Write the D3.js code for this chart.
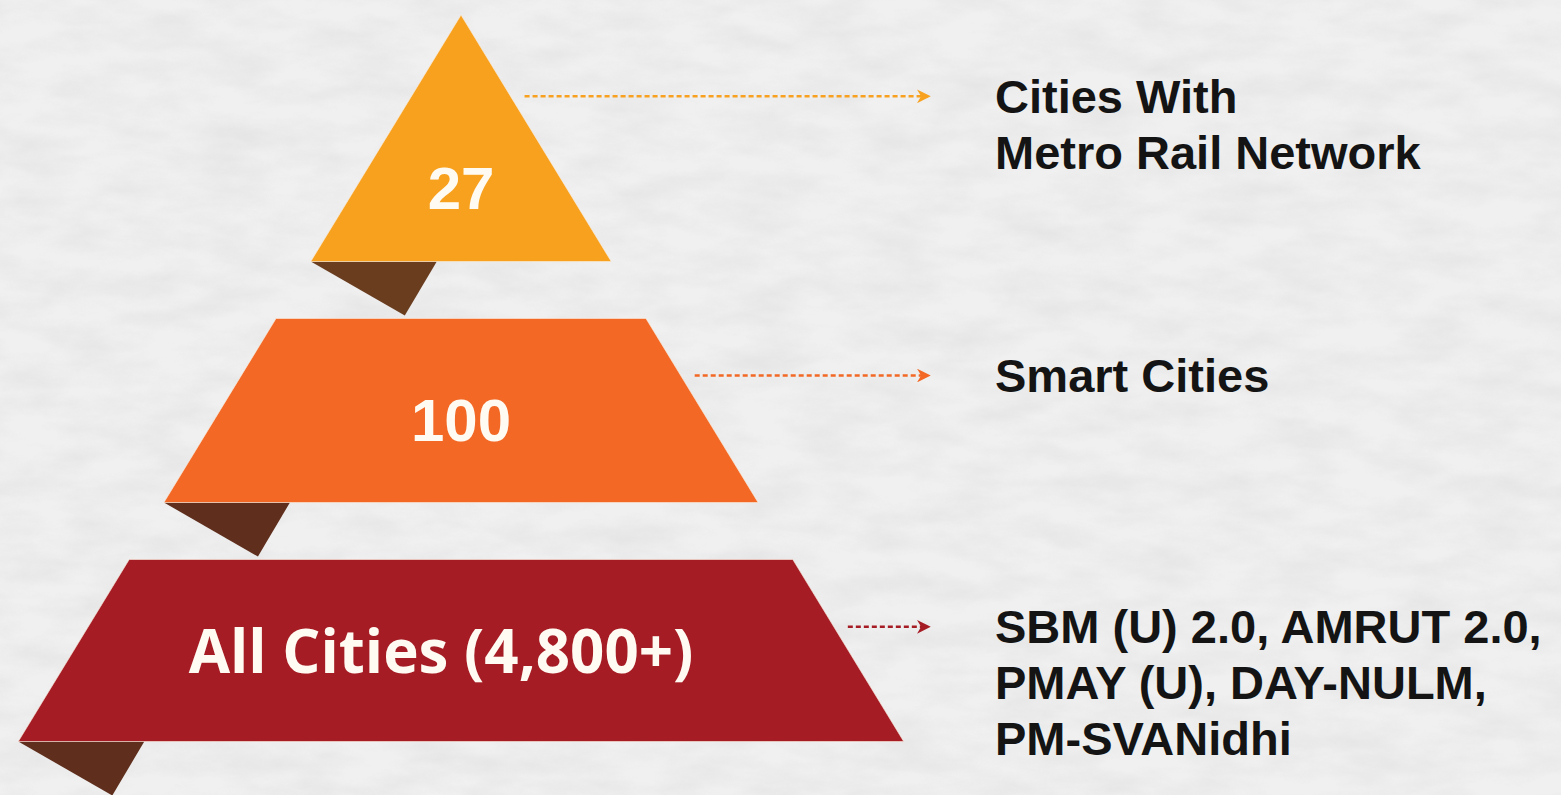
<!DOCTYPE html>
<html>
<head>
<meta charset="utf-8">
<script src="https://cdn.jsdelivr.net/npm/d3@7"></script>
<style>
	html, body { margin: 0; padding: 0; background: #efefef; overflow: hidden; }
	svg { display: block; }
</style>
</head>
<body>
<svg></svg>
<script>

// DATA

var tiers = ['Metro', 'Smart', 'All']
var tierValues = ['27', '100', 'All Cities (4,800+)']
var tierColors = ['#f7a11f', '#f26824', '#a51c24']
var tierDescriptions = [
	['Cities With', 'Metro Rail Network'],
	['Smart Cities'],
	['SBM (U) 2.0, AMRUT 2.0,', 'PMAY (U), DAY-NULM,', 'PM-SVANidhi']
]

// vis variables
var width = 1561
var height = 795

var svg = d3.select('svg')
	.attr('width', width)
	.attr('height', height)
	.attr('viewBox', `0 0 ${width} ${height}`)

// paper texture
var defs = svg.append('defs')

var paper = defs.append('filter')
	.attr('id', 'paper')
	.attr('x', 0).attr('y', 0).attr('width', '100%').attr('height', '100%')

paper.append('feTurbulence')
	.attr('type', 'fractalNoise')
	.attr('baseFrequency', '0.015 0.04')
	.attr('numOctaves', 5)
	.attr('seed', 3)
	.attr('result', 'noise')

paper.append('feColorMatrix')
	.attr('in', 'noise')
	.attr('type', 'matrix')
	.attr('values', '0 0 0 0 0.55  0 0 0 0 0.55  0 0 0 0 0.55  0 0 0 -1.1 0.75')

svg.append('rect')
	.attr('width', width)
	.attr('height', height)
	.attr('fill', '#f0f0f0')

svg.append('rect')
	.attr('width', width)
	.attr('height', height)
	.attr('filter', 'url(#paper)')
	.attr('opacity', 0.35)

// arrow markers, one per tier colour
tierColors.forEach(function(c, i){
	defs.append('marker')
		.attr('id', 'arrow' + i)
		.attr('viewBox', '0 0 10 10')
		.attr('refX', 8)
		.attr('refY', 5)
		.attr('markerWidth', 5.5)
		.attr('markerHeight', 5.5)
		.attr('markerUnits', 'strokeWidth')
		.attr('orient', 'auto')
		.append('path')
		.attr('d', 'M0,0 L10,5 L0,10 L3,5 Z')
		.attr('fill', c)
})

// SCALES

var cx = 461

// level -> y ; tier i lives between level i and i+1
var y = d3.scaleLinear()
	.domain([0, 1, 2, 3])
	.range([15, 290, 531, 770])

var gap = 57

// distance from apex -> half width of the pyramid
var halfWidth = d3.scaleLinear()
	.domain([15, 742])
	.range([0, 443])

function tier_top(i){ return i == 0 ? y(0) : y(i) + gap / 2 }
function tier_bottom(i){ return y(i + 1) - gap / 2 }

// label y inside each tier (triangle is narrow at the top)
var labelFrac = [0.70, 0.55, 0.51]
var arrowFrac = [0.33, 0.31, 0.37]

var fold = { w: 126, tipX: 94, tipY: 54 }

var viewport = svg.append('g')
	.attr('class', 'viewport')

// FOLDS (behind the tiers)

var _folds = viewport.append('g').attr('class', 'folds')

_folds.selectAll('.fold')
	.data(tiers)
	.enter()
	.append('path')
	.attr('class', 'fold')
	.attr('d', function(d, i){
		var yb = tier_bottom(i)
		var xl = cx - halfWidth(yb)
		return 'M' + xl + ',' + yb +
			'L' + (xl + fold.w) + ',' + yb +
			'L' + (xl + fold.tipX) + ',' + (yb + fold.tipY) + 'Z'
	})
	.attr('fill', function(d, i){ return i == 0 ? '#6a3d1f' : '#5f2e1c' })

// TIERS

var _tiers = viewport.append('g').attr('class', 'tiers')

_tiers.selectAll('.tier')
	.data(tiers)
	.enter()
	.append('path')
	.attr('class', 'tier')
	.attr('d', function(d, i){
		var yt = tier_top(i)
		var yb = tier_bottom(i)
		var wt = halfWidth(yt)
		var wb = halfWidth(yb)
		return 'M' + (cx - wt) + ',' + yt +
			'L' + (cx + wt) + ',' + yt +
			'L' + (cx + wb) + ',' + yb +
			'L' + (cx - wb) + ',' + yb + 'Z'
	})
	.attr('fill', function(d, i){ return tierColors[i] })
	.attr('stroke', '#fbeee0')
	.attr('stroke-width', 1)
	.attr('stroke-opacity', 0.6)

// VALUES

var _values = viewport.append('g').attr('class', 'values')

_values.selectAll('.value')
	.data(tierValues)
	.enter()
	.append('text')
	.attr('class', 'value')
	.attr('x', function(d, i){ return i == 2 ? cx - 20 : cx })
	.attr('y', function(d, i){
		return tier_top(i) + (tier_bottom(i) - tier_top(i)) * labelFrac[i]
	})
	.attr('dy', '0.35em')
	.attr('text-anchor', 'middle')
	.attr('fill', '#fffaf2')
	.style('font-family', function(d, i){ return i == 2 ? '"Open Sans", sans-serif' : '"Liberation Sans", Arial, sans-serif' })
	.style('font-weight', 700)
	.style('font-size', function(d, i){ return i == 2 ? '60px' : '60px' })
	.text(function(d){ return d })

// ARROWS

var arrowEnd = 928

var _arrows = viewport.append('g').attr('class', 'arrows')

_arrows.selectAll('.arrow')
	.data(tiers)
	.enter()
	.append('line')
	.attr('class', 'arrow')
	.attr('x1', function(d, i){
		var ya = tier_top(i) + (tier_bottom(i) - tier_top(i)) * arrowFrac[i]
		return cx + halfWidth(ya) + 14
	})
	.attr('x2', arrowEnd)
	.attr('y1', function(d, i){ return tier_top(i) + (tier_bottom(i) - tier_top(i)) * arrowFrac[i] })
	.attr('y2', function(d, i){ return tier_top(i) + (tier_bottom(i) - tier_top(i)) * arrowFrac[i] })
	.attr('stroke', function(d, i){ return tierColors[i] })
	.attr('stroke-width', 2.5)
	.attr('stroke-dasharray', '5,3')
	.attr('marker-end', function(d, i){ return 'url(#arrow' + i + ')' })

// DESCRIPTIONS

var _labels = viewport.append('g').attr('class', 'labels')

var lineHeight = 56

_labels.selectAll('.label')
	.data(tierDescriptions)
	.enter()
	.append('text')
	.attr('class', 'label')
	.attr('x', 995)
	.attr('y', function(d, i){ return tier_top(i) + (tier_bottom(i) - tier_top(i)) * arrowFrac[i] })
	.attr('fill', '#141414')
	.style('font-family', '"Liberation Sans", Arial, sans-serif')
	.style('font-weight', 700)
	.style('font-size', '47px')
	.selectAll('tspan')
	.data(function(d){ return d })
	.enter()
	.append('tspan')
	.attr('x', 995)
	.attr('dy', function(d, i){ return i == 0 ? '0.35em' : lineHeight })
	.text(function(d){ return d })

</script>
</body>
</html>
